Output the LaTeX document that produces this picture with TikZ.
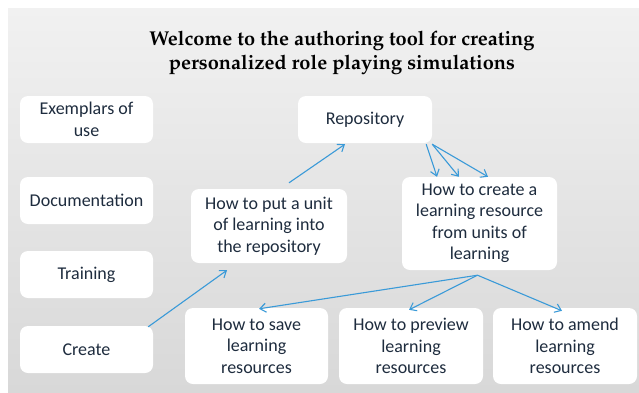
\documentclass[tikz,border=0pt]{standalone}
\usepackage[T1]{fontenc}
\usepackage{fontspec}
\setmainfont{Carlito}
\usetikzlibrary{arrows.meta,calc}
\definecolor{txt}{HTML}{1E2C3E}
\definecolor{arr}{HTML}{3A9AD8}
\definecolor{bgl}{HTML}{F1F1F1}
\definecolor{bgr}{HTML}{D8D8D8}
\tikzset{
  box/.style={fill=white, rounded corners=8pt, text=txt, align=center, inner sep=0pt,
    font=\fontsize{18}{21.5}\selectfont},
  conn/.style={draw=arr, line width=1.1pt, -{Straight Barb[length=6pt,width=9pt]}},
  titletext/.style={align=center, text=black,
    font=\fontencoding{T1}\fontfamily{ppl}\fontseries{b}\fontsize{20}{24}\selectfont}
}
\begin{document}
\begin{tikzpicture}[x=1pt,y=-1pt]
\useasboundingbox (0,0) rectangle (639,392);
\shade[left color=bgl, right color=bgr, shading angle=0] (8,8) rectangle (639,392);
\node[titletext] (title) at (342,53) {Welcome to the authoring tool for creating\\personalized role playing simulations};
\node[box, minimum width=133pt, minimum height=47pt] (ex) at (86.5,119.5) {Exemplars of\\use};
\node[box, minimum width=133pt, minimum height=47pt] (doc) at (86.5,200.5) {Documentation};
\node[box, minimum width=133pt, minimum height=47pt] (tr) at (86.5,274.5) {Training};
\node[box, minimum width=133pt, minimum height=47pt] (cr) at (86.5,349.5) {Create};
\node[box, minimum width=156pt, minimum height=74pt] (put) at (269,226) {How to put a unit\\of learning into\\the repository};
\node[box, minimum width=134pt, minimum height=47pt] (rep) at (365,119.5) {Repository};
\node[box, minimum width=155pt, minimum height=93pt] (crt) at (479.5,223.5) {How to create a\\learning resource\\from units of\\learning};
\node[box, minimum width=143pt, minimum height=76pt] (save) at (256.5,346) {How to save\\learning\\resources};
\node[box, minimum width=144pt, minimum height=76pt] (prev) at (411,346) {How to preview\\learning\\resources};
\node[box, minimum width=144pt, minimum height=76pt] (amd) at (565,346) {How to amend\\learning\\resources};
\draw[conn] ($(cr.north east)+(-5,1)$) -- ($(put.south)+(-42,7)$);
\draw[conn] ($(put.north)+(20,-6)$) -- ($(rep.south)+(-20,1)$);
\draw[conn] ($(rep.south east)+(-6,1)$) -- ($(crt.north)+(-42.5,0)$);
\draw[conn] ($(rep.south east)+(0,1)$) -- ($(crt.north)+(-20.5,0)$);
\draw[conn] ($(rep.south east)+(0,1)$) -- ($(crt.north)+(8.5,0)$);
\draw[conn] ($(crt.south)+(-2,5)$) -- ($(save.north)+(2.5,1)$);
\draw[conn] ($(crt.south)+(-2,5)$) -- ($(prev.north)+(-2,2)$);
\draw[conn] ($(crt.south)+(-2,5)$) -- ($(amd.north)+(-3,3)$);
\end{tikzpicture}
\end{document}
